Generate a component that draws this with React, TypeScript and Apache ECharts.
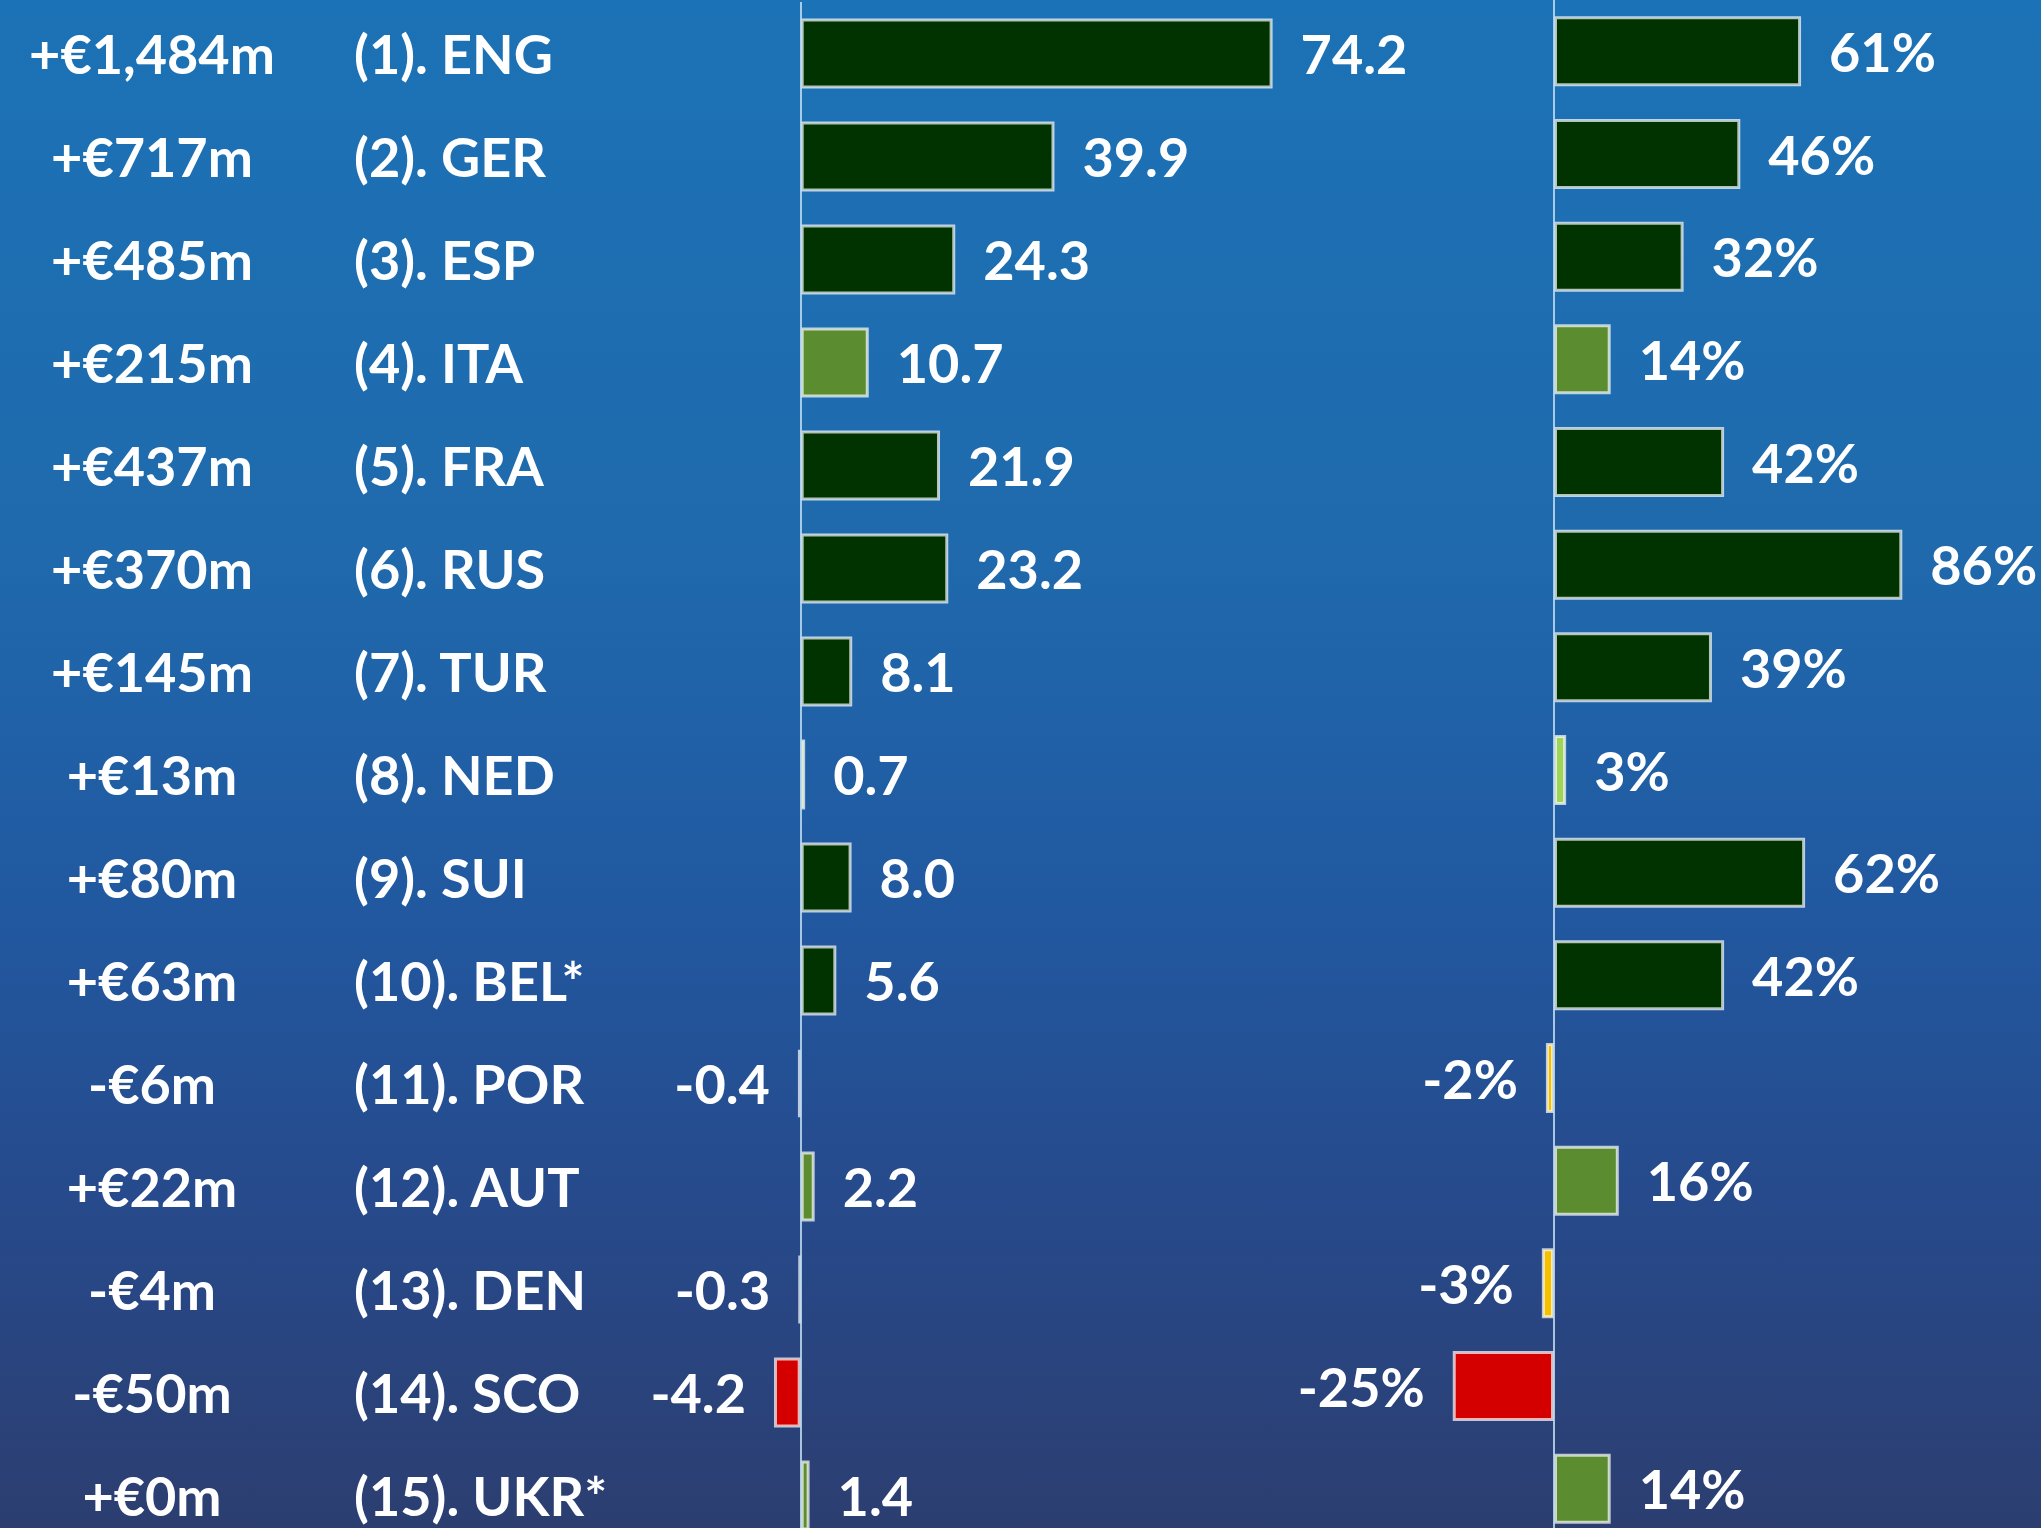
import React, { useEffect, useRef } from 'react';
import * as echarts from 'echarts';

// ---- Data ----
const amounts = [
  '+€1,484m', '+€717m', '+€485m', '+€215m', '+€437m', '+€370m', '+€145m', '+€13m',
  '+€80m', '+€63m', '-€6m', '+€22m', '-€4m', '-€50m', '+€0m',
];
const countries = [
  '(1). ENG', '(2). GER', '(3). ESP', '(4). ITA', '(5). FRA', '(6). RUS', '(7). TUR', '(8). NED',
  '(9). SUI', '(10). BEL*', '(11). POR', '(12). AUT', '(13). DEN', '(14). SCO', '(15). UKR*',
];
const pointValues = [74.2, 39.9, 24.3, 10.7, 21.9, 23.2, 8.1, 0.7, 8.0, 5.6, -0.4, 2.2, -0.3, -4.2, 1.4];
const percentValues = [61, 46, 32, 14, 42, 86, 39, 3, 62, 42, -2, 16, -3, -25, 14];
const rowColorKeys = [
  'dark', 'dark', 'dark', 'mid', 'dark', 'dark', 'dark', 'light',
  'dark', 'dark', 'yellow', 'mid', 'yellow', 'red', 'mid',
];

const PALETTE: Record<string, string> = {
  dark: '#003300',
  mid: '#5b8c2f',
  light: '#9fd45a',
  yellow: '#f5c000',
  red: '#d40000',
};

const FONT = 'Lato';

export default function App() {
  const ref = useRef<HTMLDivElement>(null);

  useEffect(() => {
    const chart = echarts.init(ref.current as HTMLDivElement, null, { renderer: 'svg' });

    const barItems = (vals: number[]) =>
      vals.map((v, i) => ({
        value: v,
        itemStyle: { color: PALETTE[rowColorKeys[i]] },
        label: { position: v < 0 ? 'left' : 'right' },
      }));

    const textStyle = {
      color: '#ffffff',
      fontFamily: FONT,
      fontWeight: 'bold' as const,
      fontSize: 54,
    };

    const zeroLine = {
      silent: true,
      symbol: ['none', 'none'],
      label: { show: false },
      lineStyle: { color: 'rgba(190,220,240,0.85)', width: 2, type: 'solid' },
      data: [{ xAxis: 0 }],
    };

    chart.setOption({
      animation: false,
      backgroundColor: 'transparent',
      grid: [
        { left: 737.1, top: 2, width: 763.2, height: 1545 },
        { left: 1432.5, top: -1, width: 486, height: 1541 },
        { left: 152, top: 2, width: 1, height: 1545 },
      ],
      xAxis: [
        { gridIndex: 0, type: 'value', min: -10, max: 110, show: false },
        { gridIndex: 1, type: 'value', min: -30, max: 90, show: false },
        { gridIndex: 2, type: 'value', min: 0, max: 1, show: false },
      ],
      yAxis: [
        {
          gridIndex: 0,
          type: 'category',
          data: countries,
          inverse: true,
          axisLine: { show: false, onZero: false },
          axisTick: { show: false },
          splitLine: { show: false },
          axisLabel: { ...textStyle, align: 'left', margin: 383 },
        },
        {
          gridIndex: 1,
          type: 'category',
          data: countries,
          inverse: true,
          axisLine: { show: false, onZero: false },
          axisTick: { show: false },
          splitLine: { show: false },
          axisLabel: { show: false },
        },
        {
          gridIndex: 2,
          type: 'category',
          data: amounts,
          inverse: true,
          axisLine: { show: false, onZero: false },
          axisTick: { show: false },
          splitLine: { show: false },
          axisLabel: { ...textStyle, align: 'center', margin: 0 },
        },
      ],
      series: [
        {
          type: 'bar',
          xAxisIndex: 0,
          yAxisIndex: 0,
          barWidth: 70,
          data: barItems(pointValues),
          itemStyle: { borderColor: 'rgba(255,255,255,0.7)', borderWidth: 3 },
          label: {
            show: true,
            distance: 28,
            ...textStyle,
            formatter: (p: any) => Number(p.value).toFixed(1),
          },
          markLine: zeroLine,
        },
        {
          type: 'bar',
          xAxisIndex: 1,
          yAxisIndex: 1,
          barWidth: 70,
          data: barItems(percentValues),
          itemStyle: { borderColor: 'rgba(255,255,255,0.7)', borderWidth: 3 },
          label: {
            show: true,
            distance: 28,
            ...textStyle,
            formatter: (p: any) => `${p.value}%`,
          },
          markLine: zeroLine,
        },
      ],
    });

    return () => chart.dispose();
  }, []);

  return (
    <div
      style={{
        position: 'absolute',
        left: 0,
        top: 0,
        width: 2041,
        height: 1528,
        overflow: 'hidden',
        background:
          'linear-gradient(180deg, #1c72b6 0%, #1f6aad 35%, #2158a0 60%, #27498a 80%, #2c3e70 100%)',
      }}
    >
      <div ref={ref} style={{ width: 2041, height: 1600 }} />
    </div>
  );
}
